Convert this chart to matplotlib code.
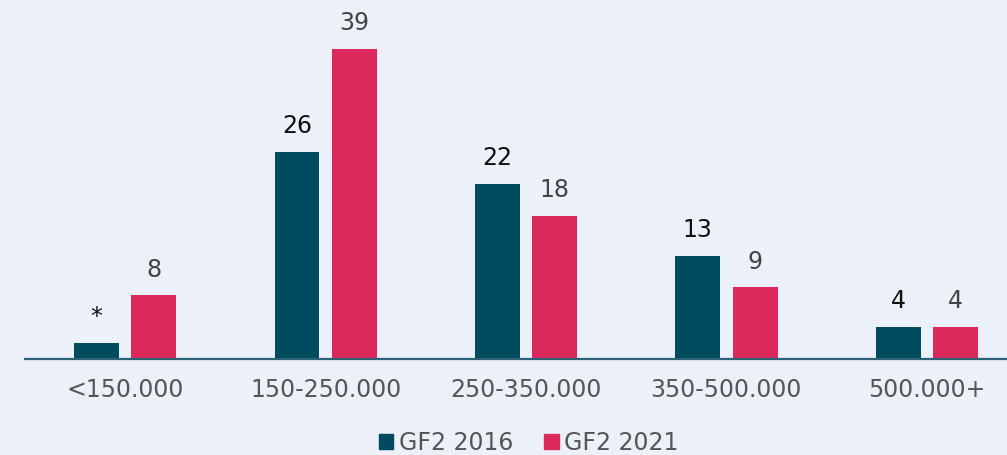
import numpy as np
import matplotlib
matplotlib.use("Agg")
import matplotlib.pyplot as plt
from matplotlib.patches import Patch

# -----------------------------
# DATA
# -----------------------------
categories = ["<150.000", "150-250.000", "250-350.000", "350-500.000", "500.000+"]
gf2_2016 = [2, 26, 22, 13, 4]
gf2_2021 = [8, 39, 18, 9, 4]
labels_2016 = ["*", "26", "22", "13", "4"]
labels_2021 = ["8", "39", "18", "9", "4"]
series_names = ["GF2 2016", "GF2 2021"]

# -----------------------------
# STYLE
# -----------------------------
bg = "#ebf0f9"
teal = "#004b5e"
pink = "#dc285b"
tick_grey = "#555555"

fig = plt.figure(figsize=(10.07, 4.55), dpi=100, facecolor=bg)
ax = fig.add_axes([25 / 1007, 1 - 359 / 455, 1 - 25 / 1007, 359 / 455])
ax.set_facecolor(bg)

x = np.arange(len(categories))
w = 0.224
off = 0.143

b1 = ax.bar(x - off, gf2_2016, w, color=teal, zorder=2)
b2 = ax.bar(x + off, gf2_2021, w, color=pink, zorder=2)

# value labels above the bars
for rect, lab in zip(b1, labels_2016):
    ax.annotate(lab, (rect.get_x() + rect.get_width() / 2, rect.get_height()),
                xytext=(0, 10), textcoords="offset points", ha="center", va="bottom",
                fontsize=17, color="#111111")
for rect, lab in zip(b2, labels_2021):
    ax.annotate(lab, (rect.get_x() + rect.get_width() / 2, rect.get_height()),
                xytext=(0, 10), textcoords="offset points", ha="center", va="bottom",
                fontsize=17, color="#444444")

ax.set_xlim(-0.5, 4.4)
ax.set_ylim(0, 45.15)
ax.set_xticks(x)
ax.set_xticklabels(categories, fontsize=17, color=tick_grey)
ax.tick_params(axis="x", length=0, pad=14)
ax.set_yticks([])

for s in ["top", "right", "left"]:
    ax.spines[s].set_visible(False)
ax.spines["bottom"].set_color("#2b6276")
ax.spines["bottom"].set_linewidth(1.6)

# legend at the bottom
handles = [Patch(color=teal), Patch(color=pink)]
fig.legend(handles, series_names, loc="center", bbox_to_anchor=(529 / 1007, 1 - 443 / 455),
           ncol=2, frameon=False, fontsize=17, labelcolor=tick_grey,
           handlelength=0.6, handleheight=0.6, handletextpad=0.25, columnspacing=1.3)

fig.savefig("out.png", dpi=100, facecolor=bg)
